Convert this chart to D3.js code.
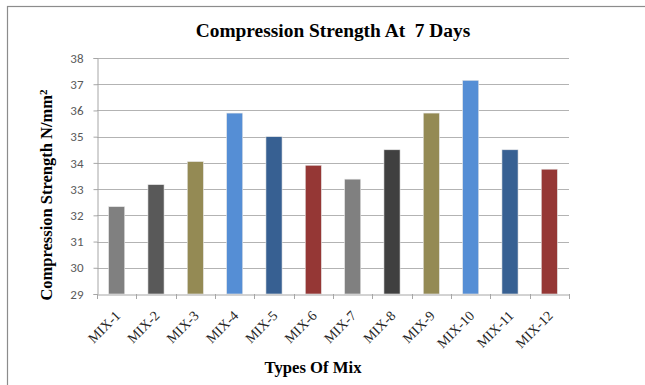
<!DOCTYPE html>
<html>
<head>
<meta charset="utf-8">
<script src="https://cdn.jsdelivr.net/npm/d3@7"></script>
<style>
  html, body { margin: 0; padding: 0; background: #fff; }
  svg { display: block; }
</style>
</head>
<body>
<svg id="chart" width="645" height="385"></svg>
<script>
// Compression strength at 7 days for each mix
const categories = ["MIX-1","MIX-2","MIX-3","MIX-4","MIX-5","MIX-6","MIX-7","MIX-8","MIX-9","MIX-10","MIX-11","MIX-12"];
const strength = [32.33, 33.17, 34.05, 35.9, 35.0, 33.91, 33.38, 34.5, 35.9, 37.15, 34.5, 33.76];
const barColors = ["#808080","#595959","#948a54","#558ed5","#376092","#953735","#808080","#404040","#948a54","#558ed5","#376092","#953735"];
const yTicks = [29,30,31,32,33,34,35,36,37,38];

const svg = d3.select("#chart");
const W = 645, H = 385;
const plot = { left: 97, right: 569, top: 58, bottom: 294 };
const serif = "'Liberation Serif', 'Times New Roman', serif";

// outer frame (left and top edges visible)
svg.append("rect")
  .attr("x", 7.5).attr("y", 6.5)
  .attr("width", W + 10).attr("height", H + 10)
  .attr("fill", "none").attr("stroke", "#8c8c8c").attr("stroke-width", 1.2);

const x = d3.scaleBand().domain(categories).range([plot.left, plot.right]).paddingInner(0.59).paddingOuter(0.295);
const xOuter = d3.scaleBand().domain(categories).range([plot.left, plot.right]);
const y = d3.scaleLinear().domain([29, 38]).range([plot.bottom, plot.top]);

// horizontal gridlines
svg.append("g").selectAll("line").data(yTicks.filter(t => t > 29)).join("line")
  .attr("x1", plot.left).attr("x2", plot.right)
  .attr("y1", d => Math.round(y(d)) + 0.5).attr("y2", d => Math.round(y(d)) + 0.5)
  .attr("stroke", "#b3b3b3").attr("stroke-width", 1);

// y axis
const yAxis = svg.append("g")
  .attr("transform", `translate(${plot.left + 0.5},0)`)
  .call(d3.axisLeft(y).tickValues(yTicks).tickSize(4).tickPadding(10).tickFormat(d3.format("d")));
yAxis.select(".domain").attr("stroke", "#a6a6a6");
yAxis.selectAll(".tick line").attr("stroke", "#a6a6a6");
yAxis.selectAll(".tick text")
  .attr("fill", "#595959")
  .style("font-family", "Carlito, 'Liberation Sans', Arial, sans-serif")
  .style("font-size", "13px");

// bars
svg.append("g").selectAll("rect").data(categories).join("rect")
  .attr("x", d => x(d))
  .attr("width", x.bandwidth())
  .attr("y", (d, i) => y(strength[i]))
  .attr("height", (d, i) => y(29) - y(strength[i]))
  .attr("fill", (d, i) => barColors[i])
  .attr("stroke", "#e8e8e8").attr("stroke-width", 0.6);

// x axis
const xAxis = svg.append("g")
  .attr("transform", `translate(0,${plot.bottom + 0.5})`)
  .call(d3.axisBottom(xOuter).tickSize(0).tickFormat(""));
xAxis.select(".domain").attr("stroke", "#a6a6a6");
// boundary tick marks between categories
svg.append("g").selectAll("line")
  .data(categories.map(c => xOuter(c)).concat([plot.right]))
  .join("line")
  .attr("x1", d => Math.round(d) + 0.5).attr("x2", d => Math.round(d) + 0.5)
  .attr("y1", plot.bottom).attr("y2", plot.bottom + 5)
  .attr("stroke", "#a6a6a6");

// rotated category labels
svg.append("g").selectAll("text").data(categories).join("text")
  .attr("transform", d => `translate(${xOuter(d) + xOuter.bandwidth() / 2 + 1},${plot.bottom + 19}) rotate(-45)`)
  .attr("text-anchor", "end")
  .attr("dy", "0.35em")
  .attr("fill", "#262626")
  .style("font-family", serif)
  .style("font-size", "14px")
  .text(d => d);

// title
svg.append("text")
  .attr("x", 333).attr("y", 37)
  .attr("text-anchor", "middle")
  .style("font-family", serif)
  .style("font-weight", "bold").style("font-size", "19.4px")
  .style("white-space", "pre")
  .text("Compression Strength At  7 Days");

// x axis title
svg.append("text")
  .attr("x", 313).attr("y", 373)
  .attr("text-anchor", "middle")
  .style("font-family", serif)
  .style("font-weight", "bold").style("font-size", "16.7px")
  .text("Types Of Mix");

// y axis title with superscript
const yt = svg.append("text")
  .attr("transform", "translate(52,195) rotate(-90)")
  .attr("text-anchor", "middle")
  .style("font-family", serif)
  .style("font-weight", "bold").style("font-size", "16.5px");
yt.append("tspan").text("Compression Strength N/mm");
yt.append("tspan").attr("dy", "-0.45em").style("font-size", "11px").text("2");
</script>
</body>
</html>
